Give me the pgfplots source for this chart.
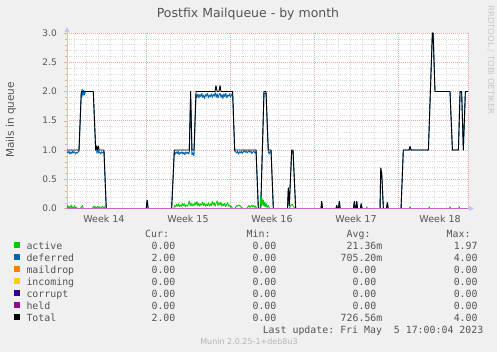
\documentclass[border=0pt]{standalone}
\usepackage{fontspec}
\setmainfont{DejaVu Sans}
\setmonofont{DejaVu Sans Mono}
\usepackage{pgfplots}
\pgfplotsset{compat=1.18}
\usetikzlibrary{arrows.meta}
\definecolor{bg}{HTML}{F0F0F0}
\definecolor{txt}{HTML}{555555}
\definecolor{cactive}{HTML}{00CC00}
\definecolor{cdeferred}{HTML}{0066B3}
\definecolor{cmaildrop}{HTML}{FF8000}
\definecolor{cincoming}{HTML}{FFCC00}
\definecolor{ccorrupt}{HTML}{330099}
\definecolor{cheld}{HTML}{990099}
\definecolor{axcol}{HTML}{C4C4F0}
\definecolor{majgrid}{HTML}{F2A8A8}
\definecolor{mingrid}{HTML}{DCDCDC}
\begin{document}
\begin{tikzpicture}
\useasboundingbox (0,0) rectangle (497pt,-352pt);
\fill[bg] (0,0) rectangle (497pt,-352pt);
\begin{axis}[
  at={(67pt,-208.5pt)}, anchor=south west,
  scale only axis, width=401pt, height=175.5pt,
  xmin=0.42, xmax=33.83, ymin=0, ymax=3,
  clip=false,
  axis background/.style={fill=white},
  axis lines=left,
  axis line style={draw=axcol, line width=0.7pt},
  x axis line style={-{Triangle[length=5pt,width=5pt]}, shorten >=-6pt},
  y axis line style={-{Triangle[length=5pt,width=5pt]}, shorten >=-6pt},
  xtick={3.5,10.5,17.5,24.5,31.5},
  xticklabels={Week 14,Week 15,Week 16,Week 17,Week 18},
  xtick style={draw=none},
  minor xtick={1,2,3,4,5,6,8,9,10,11,12,13,15,16,17,18,19,20,22,23,24,25,26,27,29,30,31,32,33},
  extra x ticks={7,14,21,28,33.83},
  extra x tick labels={},
  extra x tick style={xmajorgrids=true, tick align=outside, major tick length=3pt, tick style={draw=majgrid}},
  ytick={0,0.5,1,1.5,2,2.5,3},
  minor ytick={0.1,0.2,0.3,0.4,0.6,0.7,0.8,0.9,1.1,1.2,1.3,1.4,1.6,1.7,1.8,1.9,2.1,2.2,2.3,2.4,2.6,2.7,2.8,2.9},
  xmajorgrids=false, xminorgrids=true, ymajorgrids=true, yminorgrids=true,
  major grid style={draw=majgrid, line width=0.55pt, dash pattern=on 1pt off 1pt},
  minor grid style={draw=mingrid, line width=0.5pt, dash pattern=on 1pt off 1.2pt},
  ytick style={draw=majgrid},
  tick align=outside, major tick length=3pt, minor tick length=2pt,
  minor tick style={draw=mingrid},
  /pgf/number format/assume math mode=true,
  /pgf/number format/fixed, /pgf/number format/fixed zerofill, /pgf/number format/precision=1,
  yticklabel style={anchor=east, inner sep=0pt, xshift=-7pt, font=\fontsize{9}{10}\selectfont, text=txt},
  xticklabel style={anchor=north, inner sep=0pt, yshift=-3.5pt, font=\fontsize{9.5}{11}\selectfont, text=txt},
  every axis plot/.append style={line width=0.9pt, line join=round, mark=none},
]
% deferred
\addplot[cdeferred] coordinates {
(0.42,0.97)(0.5,0.95)(0.58,0.98)(0.66,0.93)(0.74,0.97)(0.82,0.94)(0.9,0.98)(0.98,0.95)(1.06,0.97)(1.14,0.93)(1.22,0.96)(1.3,0.95)(1.38,0.98)(1.42,0.97)
(1.61,1.97)(1.68,2.04)(1.74,1.92)(1.8,2.02)(1.86,1.94)(1.92,1.98)(2.0,2.0)(2.61,2.0)(2.81,1.0)(2.87,1.04)(2.92,0.94)(3.0,1.03)(3.06,0.95)(3.14,0.97)(3.22,0.93)(3.3,0.97)(3.38,0.95)(3.5,0.98)(3.69,0)
(7.02,0)(7.1,0.14)(7.18,0)(9.14,0)(9.36,0.97)
(9.44,0.93)(9.52,0.97)(9.6,0.94)(9.68,0.98)(9.76,0.92)(9.84,0.96)(9.92,0.94)(10.0,0.97)(10.08,0.93)(10.16,0.96)(10.24,0.92)(10.32,0.97)(10.4,0.94)(10.48,0.96)(10.56,0.93)(10.61,0.97)(10.72,1.95)(10.83,0.92)(10.9,0.95)(11.0,0.9)(11.17,1.95)
(11.25,1.9)(11.33,1.96)(11.41,1.89)(11.49,1.95)(11.57,1.91)(11.65,1.97)(11.73,1.9)(11.81,1.94)(11.89,1.88)(11.97,1.95)(12.05,1.92)(12.13,1.97)(12.21,1.89)(12.29,1.94)(12.37,1.91)(12.45,1.96)(12.53,1.9)(12.61,1.95)(12.69,1.92)(12.77,1.98)(12.85,1.9)(12.93,1.96)(13.01,1.89)(13.09,1.94)(13.17,1.97)(13.25,1.9)(13.33,1.95)(13.41,1.88)(13.49,1.96)(13.57,1.91)(13.65,1.97)(13.73,1.89)(13.81,1.94)(13.89,1.92)(13.97,1.96)(14.05,1.9)(14.13,1.95)(14.22,1.97)(14.39,0.98)
(14.47,0.97)(14.55,0.95)(14.63,0.98)(14.71,0.93)(14.79,0.97)(14.87,0.95)(14.95,0.98)(15.03,0.94)(15.11,0.97)(15.19,0.99)(15.27,0.96)(15.35,0.98)(15.43,0.95)(15.51,0.97)(15.59,0.99)(15.67,0.96)(15.75,0.98)(15.83,0.94)(15.91,0.97)(15.99,0.98)(16.07,0.95)(16.17,0.97)(16.36,0)(16.56,0)
(16.83,1.96)(17.0,1.98)(17.19,0.97)(17.26,0.93)(17.34,0.98)(17.42,0.97)(17.61,0)
(18.79,0)(18.86,0.35)(18.94,0.05)(19.14,0.97)(19.25,0.98)(19.47,0)(21.58,0)(21.64,0.12)(21.71,0)(22.83,0)(22.89,0.05)(22.96,0)(23.04,0)(23.11,0.12)(23.18,0)(24.29,0)(24.36,0.12)(24.43,0)(24.5,0)(24.56,0.12)(24.63,0)(24.86,0)(24.93,0.08)(25.0,0)(26.5,0)(26.56,0.69)(26.64,0.6)(26.78,0)(27.04,0)(27.11,0.1)(27.18,0)(28.25,0)(28.44,1.0)(28.92,1.0)(29.0,1.06)(29.08,1.0)(30.53,1.0)(30.86,3.0)(30.92,3.0)(31.08,2.0)(32.33,2.0)(32.53,1.0)(33.03,1.0)(33.17,2.0)(33.3,2.0)(33.44,1.0)(33.61,2.0)(33.83,2.0)
};
% total
\addplot[black] coordinates {
(0.42,1.0)(1.42,1.0)(1.61,2.0)(2.61,2.0)(2.81,1.0)(2.87,1.07)(2.94,1.0)(3.02,1.07)(3.1,1.0)(3.5,1.0)(3.69,0)(7.02,0)(7.1,0.14)(7.18,0)(9.14,0)(9.36,1.0)(10.61,1.0)(10.72,2.0)(10.83,1.0)(11.0,1.0)(11.17,2.0)(12.75,2.0)(12.83,2.1)(12.92,2.0)(13.08,2.0)(13.17,2.1)(13.25,2.0)(14.22,2.0)(14.39,1.0)(16.17,1.0)(16.36,0)(16.56,0)(16.83,2.0)(17.0,2.0)(17.19,1.0)(17.42,1.0)(17.61,0)(18.79,0)(18.86,0.35)(18.94,0.05)(19.14,1.0)(19.25,1.0)(19.47,0)(21.58,0)(21.64,0.12)(21.71,0)(22.83,0)(22.89,0.05)(22.96,0)(23.04,0)(23.11,0.12)(23.18,0)(24.29,0)(24.36,0.12)(24.43,0)(24.5,0)(24.56,0.12)(24.63,0)(24.86,0)(24.93,0.08)(25.0,0)(26.5,0)(26.56,0.69)(26.64,0.6)(26.78,0)(27.04,0)(27.11,0.1)(27.18,0)(28.25,0)(28.44,1.0)(28.92,1.0)(29.0,1.06)(29.08,1.0)(30.53,1.0)(30.86,3.0)(30.92,3.0)(31.08,2.0)(32.33,2.0)(32.53,1.0)(33.03,1.0)(33.17,2.0)(33.3,2.0)(33.44,1.0)(33.61,2.0)(33.83,2.0)
};
% active
\addplot[cactive] coordinates {
(0.42,0)(0.47,0.05)(0.52,0.01)(0.58,0.04)(0.64,0)(0.7,0.02)(0.76,0.06)(0.82,0.01)(0.88,0.03)(0.94,0)(1.0,0.02)(1.06,0.05)(1.12,0.01)(1.2,0.02)(1.3,0)(1.5,0)(1.6,0.02)(1.7,0.05)(1.76,0.01)(1.85,0)(2.5,0)(2.6,0.02)(2.66,0.04)(2.72,0.01)(2.8,0.03)(2.86,0)(2.92,0.02)(3.0,0.04)(3.06,0.01)(3.14,0.03)(3.22,0)(3.3,0.02)(3.38,0.04)(3.46,0.01)(3.55,0.03)(3.62,0)
(9.3,0)(9.4,0.05)(9.48,0.03)(9.56,0.07)(9.64,0.04)(9.72,0.08)(9.8,0.03)(9.88,0.06)(9.96,0.04)(10.04,0.09)(10.12,0.05)(10.2,0.08)(10.28,0.03)(10.36,0.06)(10.44,0.04)(10.52,0.07)(10.6,0.13)(10.68,0.05)(10.76,0.09)(10.84,0.04)(10.92,0.08)(11.0,0.05)(11.08,0.1)(11.16,0.06)(11.24,0.12)(11.32,0.05)(11.4,0.09)(11.48,0.04)(11.56,0.08)(11.64,0.06)(11.72,0.11)(11.8,0.05)(11.88,0.09)(11.96,0.04)(12.04,0.07)(12.12,0.05)(12.2,0.1)(12.28,0.04)(12.36,0.08)(12.44,0.05)(12.52,0.12)(12.6,0.06)(12.68,0.1)(12.76,0.04)(12.84,0.09)(12.92,0.13)(13.0,0.05)(13.08,0.1)(13.16,0.06)(13.24,0.11)(13.32,0.04)(13.4,0.08)(13.48,0.05)(13.56,0.09)(13.64,0.03)(13.72,0.07)(13.8,0.1)(13.88,0.04)(13.96,0.06)(14.04,0.02)(14.12,0.04)(14.2,0)
(14.4,0)(14.5,0.03)(14.58,0.05)(14.66,0.04)(14.74,0.06)(14.82,0.05)(14.9,0.03)(14.98,0.02)(15.06,0)(15.4,0)(15.5,0.03)(15.58,0.05)(15.66,0.02)(15.74,0.04)(15.82,0.06)(15.9,0.03)(15.98,0.05)(16.06,0.02)(16.14,0.04)(16.22,0)
(16.5,0)(16.56,0.2)(16.62,0.08)(16.68,0.17)(16.74,0.05)(16.8,0.14)(16.86,0.04)(16.92,0.1)(16.98,0.03)(17.04,0.08)(17.1,0.02)(17.2,0.05)(17.3,0)
(18.9,0)(19.0,0.03)(19.1,0.06)(19.2,0.07)(19.3,0.03)(19.4,0)
(25.35,0)(25.4,0.03)(25.45,0)(28.95,0)(29.0,0.03)(29.05,0)(30.55,0)(30.6,0.03)(30.65,0)(32.28,0)(32.33,0.03)(32.38,0)(33.05,0)(33.1,0.03)(33.15,0)(33.83,0)
};
% maildrop, incoming, corrupt
\addplot[cmaildrop] coordinates {(0.42,0)(33.83,0)};
\addplot[cincoming] coordinates {(0.42,0)(33.83,0)};
\addplot[ccorrupt] coordinates {(0.42,0)(33.83,0)};
% held
\addplot[cheld!60!white] coordinates {(0.42,0)(33.83,0)};
\end{axis}
% title and labels
\node[text=txt, font=\fontsize{12.5}{14}\selectfont] at (248pt,-14pt) {Postfix Mailqueue - by month};
\node[text=txt, rotate=90, font=\fontsize{10.5}{12}\selectfont] at (11pt,-120pt) {Mails in queue};
\node[text={rgb,255:red,200;green,200;blue,200}, rotate=-90, anchor=west, inner sep=0pt, font=\fontsize{8.5}{10}\selectfont] at (491pt,-5pt) {RRDTOOL / TOBI OETIKER};
% legend
\begin{scope}[every node/.style={inner sep=0pt, text=txt, font=\fontsize{9.9}{11}\ttfamily}]
\node[anchor=base west] at (145pt,-237.3pt) {Cur:};
\node[anchor=base west] at (246.5pt,-237.3pt) {Min:};
\node[anchor=base west] at (346.5pt,-237.3pt) {Avg:};
\node[anchor=base west] at (446.5pt,-237.3pt) {Max:};
% rows
\fill[cactive] (14pt,-242pt) rectangle (20pt,-248pt);
\node[anchor=base west] at (26.3pt,-249.3pt) {active};
\node[anchor=base east] at (175.6pt,-249.3pt) {0.00};
\node[anchor=base east] at (276.6pt,-249.3pt) {0.00};
\node[anchor=base east] at (382.6pt,-249.3pt) {21.36m};
\node[anchor=base east] at (477.8pt,-249.3pt) {1.97};
\fill[cdeferred] (14pt,-254pt) rectangle (20pt,-260pt);
\node[anchor=base west] at (26.3pt,-261.3pt) {deferred};
\node[anchor=base east] at (175.6pt,-261.3pt) {2.00};
\node[anchor=base east] at (276.6pt,-261.3pt) {0.00};
\node[anchor=base east] at (382.6pt,-261.3pt) {705.20m};
\node[anchor=base east] at (477.8pt,-261.3pt) {4.00};
\fill[cmaildrop] (14pt,-266pt) rectangle (20pt,-272pt);
\node[anchor=base west] at (26.3pt,-273.3pt) {maildrop};
\node[anchor=base east] at (175.6pt,-273.3pt) {0.00};
\node[anchor=base east] at (276.6pt,-273.3pt) {0.00};
\node[anchor=base east] at (376.6pt,-273.3pt) {0.00};
\node[anchor=base east] at (477.8pt,-273.3pt) {0.00};
\fill[cincoming] (14pt,-278pt) rectangle (20pt,-284pt);
\node[anchor=base west] at (26.3pt,-285.3pt) {incoming};
\node[anchor=base east] at (175.6pt,-285.3pt) {0.00};
\node[anchor=base east] at (276.6pt,-285.3pt) {0.00};
\node[anchor=base east] at (376.6pt,-285.3pt) {0.00};
\node[anchor=base east] at (477.8pt,-285.3pt) {0.00};
\fill[ccorrupt] (14pt,-290pt) rectangle (20pt,-296pt);
\node[anchor=base west] at (26.3pt,-297.3pt) {corrupt};
\node[anchor=base east] at (175.6pt,-297.3pt) {0.00};
\node[anchor=base east] at (276.6pt,-297.3pt) {0.00};
\node[anchor=base east] at (376.6pt,-297.3pt) {0.00};
\node[anchor=base east] at (477.8pt,-297.3pt) {0.00};
\fill[cheld] (14pt,-302pt) rectangle (20pt,-308pt);
\node[anchor=base west] at (26.3pt,-309.3pt) {held};
\node[anchor=base east] at (175.6pt,-309.3pt) {0.00};
\node[anchor=base east] at (276.6pt,-309.3pt) {0.00};
\node[anchor=base east] at (376.6pt,-309.3pt) {0.00};
\node[anchor=base east] at (477.8pt,-309.3pt) {0.00};
\fill[black] (14pt,-314pt) rectangle (20pt,-320pt);
\node[anchor=base west] at (26.3pt,-321.3pt) {Total};
\node[anchor=base east] at (175.6pt,-321.3pt) {2.00};
\node[anchor=base east] at (276.6pt,-321.3pt) {0.00};
\node[anchor=base east] at (382.6pt,-321.3pt) {726.56m};
\node[anchor=base east] at (477.8pt,-321.3pt) {4.00};
\node[anchor=base east] at (483.5pt,-333.3pt) {Last update:~Fri May~~5 17:00:04 2023};
\end{scope}
\node[text={rgb,255:red,180;green,180;blue,180}, inner sep=0pt, anchor=base, font=\fontsize{8}{9}\selectfont] at (249pt,-344pt) {Munin 2.0.25-1+deb8u3};
\end{tikzpicture}
\end{document}
